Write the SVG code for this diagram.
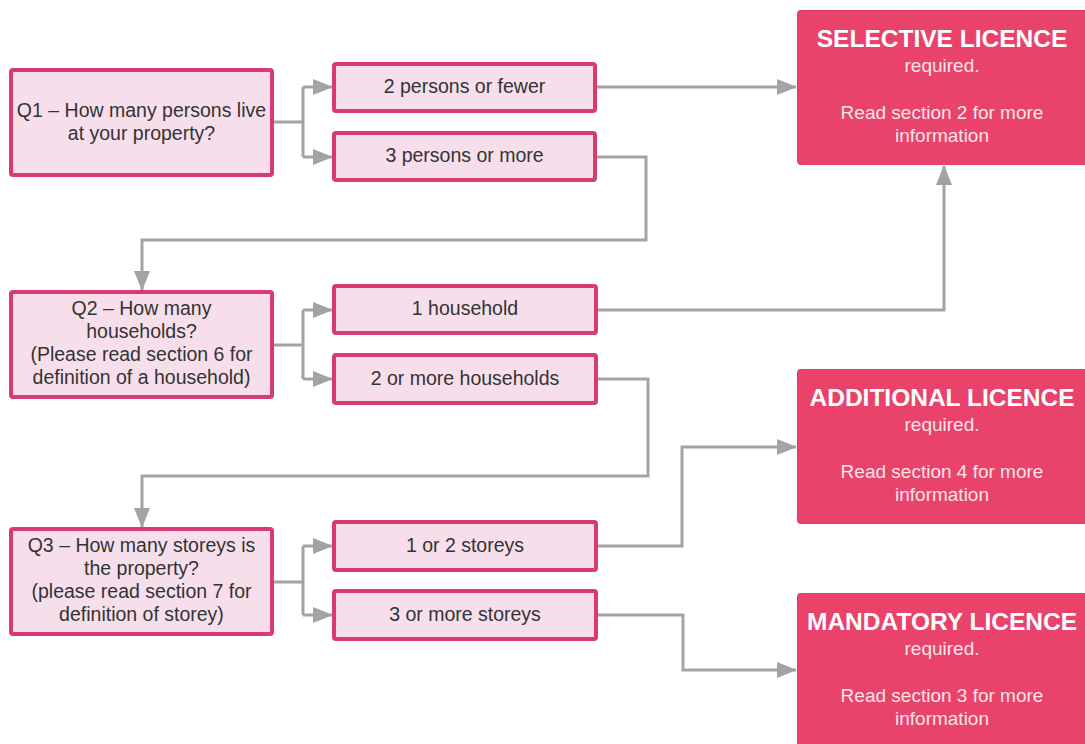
<svg xmlns="http://www.w3.org/2000/svg" width="1085" height="744" viewBox="0 0 1085 744">
<style>
.q{fill:#f6dfeb;stroke:#d73a75;stroke-width:4}
.lic{fill:#e9436b;stroke:#df3a64;stroke-width:1}
.t{font-family:"Liberation Sans",Arial,sans-serif;font-size:19.5px;fill:#333;text-anchor:middle}
.h{font-family:"Liberation Sans",Arial,sans-serif;font-size:24.5px;font-weight:bold;fill:#fff;text-anchor:middle}
.s{font-family:"Liberation Sans",Arial,sans-serif;font-size:19px;fill:#fde3ea;text-anchor:middle}
.c{fill:none;stroke:#a3a3a3;stroke-width:3}
</style>
<defs>
<marker id="ah" markerUnits="userSpaceOnUse" markerWidth="20" markerHeight="16" refX="19" refY="8" orient="auto">
<path d="M0,0 L20,8 L0,16 z" fill="#a3a3a3"/>
</marker>
</defs>
<rect width="1085" height="744" fill="#fff"/>
<g id="connectors">
<path class="c" d="M273,122 H303 M303,87 V157"/>
<path class="c" d="M303,87 H332" marker-end="url(#ah)"/>
<path class="c" d="M303,157 H332" marker-end="url(#ah)"/>
<path class="c" d="M596,87 H796" marker-end="url(#ah)"/>
<path class="c" d="M596,157 H646 V240 H142 V290" marker-end="url(#ah)"/>
<path class="c" d="M273,345 H303 M303,310 V379"/>
<path class="c" d="M303,310 H332" marker-end="url(#ah)"/>
<path class="c" d="M303,379 H332" marker-end="url(#ah)"/>
<path class="c" d="M597,310 H944 V166" marker-end="url(#ah)"/>
<path class="c" d="M597,379 H648 V476 H142 V527" marker-end="url(#ah)"/>
<path class="c" d="M273,582 H303 M303,546 V615"/>
<path class="c" d="M303,546 H332" marker-end="url(#ah)"/>
<path class="c" d="M303,615 H332" marker-end="url(#ah)"/>
<path class="c" d="M597,546 H682 V447 H796" marker-end="url(#ah)"/>
<path class="c" d="M597,615 H683 V670 H796" marker-end="url(#ah)"/>
</g>
<g id="q1">
<rect class="q" x="11" y="70" width="261" height="105" rx="2"/>
<text class="t" x="141.5" y="117">Q1 – How many persons live</text>
<text class="t" x="141.5" y="140">at your property?</text>
</g>
<g id="opt-2persons">
<rect class="q" x="334" y="64" width="261" height="47" rx="2"/>
<text class="t" x="464.5" y="93">2 persons or fewer</text>
</g>
<g id="opt-3persons">
<rect class="q" x="334" y="133" width="261" height="47" rx="2"/>
<text class="t" x="464.5" y="162">3 persons or more</text>
</g>
<g id="q2">
<rect class="q" x="11" y="292" width="261" height="105" rx="2"/>
<text class="t" x="141.5" y="315">Q2 – How many</text>
<text class="t" x="141.5" y="338">households?</text>
<text class="t" x="141.5" y="361">(Please read section 6 for</text>
<text class="t" x="141.5" y="384">definition of a household)</text>
</g>
<g id="opt-1household">
<rect class="q" x="334" y="286" width="262" height="47" rx="2"/>
<text class="t" x="465" y="315">1 household</text>
</g>
<g id="opt-2households">
<rect class="q" x="334" y="355" width="262" height="48" rx="2"/>
<text class="t" x="465" y="385">2 or more households</text>
</g>
<g id="q3">
<rect class="q" x="11" y="529" width="261" height="105" rx="2"/>
<text class="t" x="141.5" y="552">Q3 – How many storeys is</text>
<text class="t" x="141.5" y="575">the property?</text>
<text class="t" x="141.5" y="598">(please read section 7 for</text>
<text class="t" x="141.5" y="621">definition of storey)</text>
</g>
<g id="opt-12storeys">
<rect class="q" x="334" y="522" width="262" height="48" rx="2"/>
<text class="t" x="465" y="552">1 or 2 storeys</text>
</g>
<g id="opt-3storeys">
<rect class="q" x="334" y="591" width="262" height="48" rx="2"/>
<text class="t" x="465" y="621">3 or more storeys</text>
</g>
<g id="selective">
<rect class="lic" x="797.5" y="10.5" width="292" height="154" rx="3"/>
<text class="h" x="942" y="47">SELECTIVE LICENCE</text>
<text class="s" x="942" y="72">required.</text>
<text class="s" x="942" y="119">Read section 2 for more</text>
<text class="s" x="942" y="142">information</text>
</g>
<g id="additional">
<rect class="lic" x="797.5" y="369.5" width="292" height="154" rx="3"/>
<text class="h" x="942" y="406">ADDITIONAL LICENCE</text>
<text class="s" x="942" y="431">required.</text>
<text class="s" x="942" y="478">Read section 4 for more</text>
<text class="s" x="942" y="501">information</text>
</g>
<g id="mandatory">
<rect class="lic" x="797.5" y="593.5" width="292" height="160" rx="3"/>
<text class="h" x="942" y="630">MANDATORY LICENCE</text>
<text class="s" x="942" y="655">required.</text>
<text class="s" x="942" y="702">Read section 3 for more</text>
<text class="s" x="942" y="725">information</text>
</g>
</svg>
